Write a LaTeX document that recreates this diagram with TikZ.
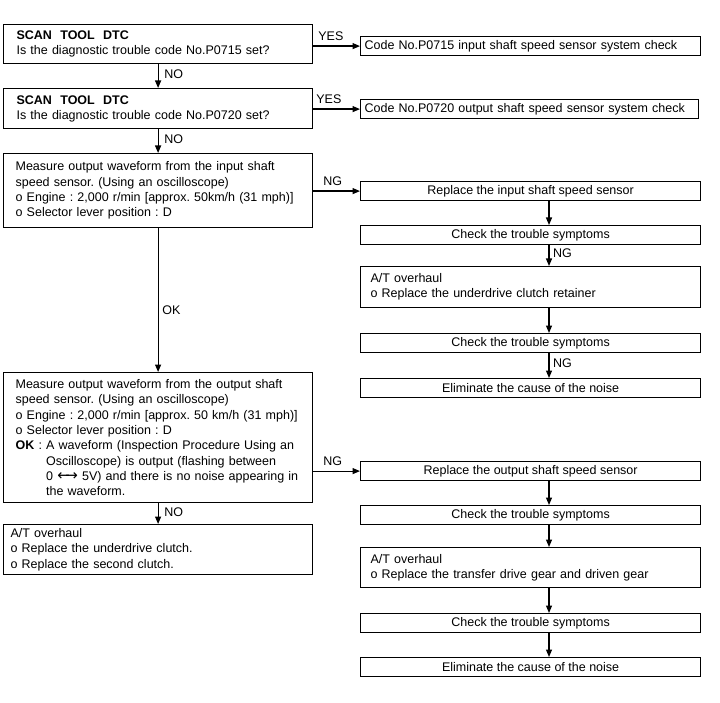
\documentclass[tikz,border=0pt]{standalone}
\usepackage{fontspec}
\setmainfont{Liberation Sans}
\newfontfamily\symfont{DejaVu Sans}
\usetikzlibrary{arrows.meta,calc}
\newcommand\dfont{\fontsize{12.5}{15.3}\selectfont\frenchspacing}
\newcommand\myl[1]{\mbox{#1}}
\begin{document}
\begin{tikzpicture}[x=1pt,y=-1pt,
  box/.style={draw, line width=1.2pt, inner sep=0pt, anchor=north west, font=\dfont},
  lbox/.style={box, align=left},
  cbox/.style={box, align=center, minimum width=340pt, minimum height=19pt},
  arr/.style={line width=1.2pt, -{Triangle[length=7.5pt,width=6pt]}},
  lbl/.style={font=\dfont, inner sep=0pt}]
\useasboundingbox[fill=white] (0,0) rectangle (720,703);

% left column
\node[lbox, minimum width=309pt, minimum height=39pt, text width=283pt] (b1) at (3,24)
  {\textbf{SCAN\ \ TOOL\ \ DTC}\\Is the diagnostic trouble code No.P0715 set?};
\node[lbox, minimum width=309pt, minimum height=40pt, text width=283pt] (b2) at (3,88)
  {\textbf{SCAN\ \ TOOL\ \ DTC}\\Is the diagnostic trouble code No.P0720 set?};
\node[lbox, minimum width=309pt, minimum height=74pt, text width=285pt] (b3) at (3,153)
  {\myl{Measure output waveform from the input shaft}\\
   \myl{speed sensor. (Using an oscilloscope)}\\
   \myl{o Engine : 2,000 r/min [approx. 50km/h (31 mph)]}\\
   \myl{o Selector lever position : D}};
\node[lbox, minimum width=309pt, minimum height=130pt, text width=285pt] (b4) at (3,372)
  {\myl{Measure output waveform from the output shaft}\\
   \myl{speed sensor. (Using an oscilloscope)}\\
   \myl{o Engine : 2,000 r/min [approx. 50 km/h (31 mph)]}\\
   \myl{o Selector lever position : D}\\
   \myl{\textbf{OK} : A waveform (Inspection Procedure Using an}\\
   \myl{\phantom{\textbf{OK} : }Oscilloscope) is output (flashing between}\\
   \myl{\phantom{\textbf{OK} : }0 {\symfont\fontsize{15}{15}\selectfont ←\kern-.3em→} 5V) and there is no noise appearing in}\\
   \myl{\phantom{\textbf{OK} : }the waveform.}};
\node[lbox, minimum width=309pt, minimum height=50pt, text width=295pt] (b5) at (3,524)
  {A/T overhaul\\o Replace the underdrive clutch.\\o Replace the second clutch.};

% code boxes
\node[lbox, minimum width=340pt, minimum height=19pt, text width=332pt] (c1) at (360,36)
  {Code No.P0715 input shaft speed sensor system check};
\node[lbox, minimum width=338pt, minimum height=19pt, text width=330pt] (c2) at (360,99)
  {Code No.P0720 output shaft speed sensor system check};

% right column 1
\node[cbox] (r1) at (360,181) {Replace the input shaft speed sensor};
\node[cbox] (r2) at (360,225) {Check the trouble symptoms};
\node[lbox, minimum width=340pt, minimum height=41pt, text width=320pt] (r3) at (360,266)
  {A/T overhaul\\o Replace the underdrive clutch retainer};
\node[cbox] (r4) at (360,333) {Check the trouble symptoms};
\node[cbox] (r5) at (360,378) {Eliminate the cause of the noise};

% right column 2
\node[cbox] (s1) at (360,461) {Replace the output shaft speed sensor};
\node[cbox] (s2) at (360,505) {Check the trouble symptoms};
\node[lbox, minimum width=340pt, minimum height=40pt, text width=320pt] (s3) at (360,547)
  {A/T overhaul\\o Replace the transfer drive gear and driven gear};
\node[cbox] (s4) at (360,613) {Check the trouble symptoms};
\node[cbox] (s5) at (360,657) {Eliminate the cause of the noise};

\coordinate (ax) at (549,0);

% horizontal arrows
\coordinate (y1) at (b1.east |- c1.west);
\coordinate (y2) at (b2.east |- c2.west);
\coordinate (n1) at (b3.east |- r1.west);
\coordinate (n2) at (b4.east |- s1.west);
\draw[arr] (y1) -- (c1.west);
\draw[arr] (y2) -- (c2.west);
\draw[arr] (n1) -- (r1.west);
\draw[arr] (n2) -- (s1.west);
\node[lbl, anchor=base west] at ([xshift=5pt,yshift=5.5pt]y1) {YES};
\node[lbl, anchor=base west] at ([xshift=3pt,yshift=5.5pt]y2) {YES};
\node[lbl, anchor=base west] at ([xshift=10pt,yshift=5.5pt]n1) {NG};
\node[lbl, anchor=base west] at ([xshift=10pt,yshift=5.5pt]n2) {NG};

% left vertical arrows
\draw[arr] (b1.south) -- (b2.north);
\draw[arr] (b2.south) -- (b3.north);
\draw[arr] (b3.south) -- (b4.north);
\draw[arr] (b4.south) -- (b5.north);
\coordinate (m1) at ($(b1.south)!0.5!(b2.north)$);
\coordinate (m2) at ($(b2.south)!0.5!(b3.north)$);
\coordinate (m3) at ($(b3.south)!0.5!(b4.north)$);
\coordinate (m4) at ($(b4.south)!0.5!(b5.north)$);
\node[lbl, anchor=west] at ([xshift=6pt,yshift=2pt]m1) {NO};
\node[lbl, anchor=west] at ([xshift=6pt,yshift=2pt]m2) {NO};
\node[lbl, anchor=west] at ([xshift=4pt,yshift=-10pt]m3) {OK};
\node[lbl, anchor=west] at ([xshift=6pt,yshift=1pt]m4) {NO};

% right column arrows
\draw[arr] (r1.south -| ax) -- (r2.north -| ax);
\draw[arr] (r2.south -| ax) -- (r3.north -| ax);
\draw[arr] (r3.south -| ax) -- (r4.north -| ax);
\draw[arr] (r4.south -| ax) -- (r5.north -| ax);
\draw[arr] (s1.south -| ax) -- (s2.north -| ax);
\draw[arr] (s2.south -| ax) -- (s3.north -| ax);
\draw[arr] (s3.south -| ax) -- (s4.north -| ax);
\draw[arr] (s4.south -| ax) -- (s5.north -| ax);
\coordinate (k1) at ($(r2.south -| ax)!0.5!(r3.north -| ax)$);
\coordinate (k2) at ($(r4.south -| ax)!0.5!(r5.north -| ax)$);
\node[lbl, anchor=west] at ([xshift=4pt,yshift=2pt]k1) {NG};
\node[lbl, anchor=west] at ([xshift=4pt,yshift=2pt]k2) {NG};
\end{tikzpicture}
\end{document}
